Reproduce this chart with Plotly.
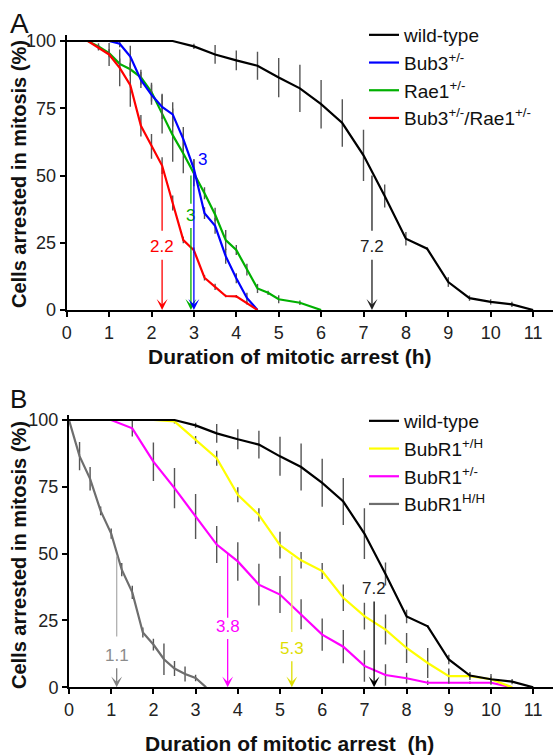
import plotly.graph_objects as go

# ---------------- data ----------------
# wild-type (same in both panels)
wt_t = [0, 0.5, 1, 1.5, 2, 2.5, 3, 3.5, 4, 4.5, 5, 5.5, 6, 6.5, 7, 7.5, 8, 8.5, 9, 9.5, 10, 10.5, 11]
wt_v = [100, 100, 100, 100, 100, 100, 98, 95, 92.8, 90.8, 86.4, 82.4, 76.5, 69.5, 57.5, 42.4, 26.5, 22.8, 10.4, 4.4, 3.0, 2.1, 0]
wt_e = [0, 0, 0, 0, 0, 0, 1.0, 3.5, 3.7, 5.2, 7.3, 8.8, 9.0, 8.8, 9.5, 4.3, 2.5, 0.5, 1.8, 1.0, 1.0, 1.0, 0]

# panel A
bub3_t = [0, 0.25, 0.5, 0.75, 1, 1.25, 1.5, 1.75, 2, 2.25, 2.5, 2.75, 3, 3.25, 3.5, 3.75, 4, 4.25, 4.5]
bub3_v = [100, 100, 100, 100, 100, 99, 94.2, 85.5, 80, 75.5, 72.7, 63.5, 52.5, 36, 31.3, 20, 11.8, 4.5, 0]
bub3_e = [0, 0, 0, 0, 0, 1.3, 4.0, 3.0, 3.7, 4.5, 4.5, 4.5, 3.5, 2.2, 3.0, 2.8, 1.9, 1.9, 0]

rae1_t = [0, 0.25, 0.5, 0.75, 1, 1.25, 1.5, 1.75, 2, 2.25, 2.5, 2.75, 3, 3.25, 3.5, 3.75, 4, 4.25, 4.5, 4.75, 5, 5.5, 6]
rae1_v = [100, 100, 100, 98, 95.5, 91.5, 89.5, 86.5, 81, 73, 65, 58.2, 51, 43.4, 35.5, 26, 22.3, 15, 8, 6.4, 4, 2.7, 0]
rae1_e = [0, 0, 0, 1.2, 1.5, 2, 2.5, 2.8, 3.5, 7.4, 9.9, 7.4, 5, 2.2, 2.5, 3.7, 1.9, 2.2, 1.7, 0.8, 1.5, 0.8, 0]

dbl_t = [0, 0.25, 0.5, 0.75, 1, 1.25, 1.5, 1.75, 2, 2.25, 2.5, 2.75, 3, 3.25, 3.5, 3.75, 4, 4.25, 4.5]
dbl_v = [100, 100, 100, 97.5, 95, 90, 83.6, 68.5, 60.8, 53.7, 39.8, 26, 22.2, 12, 8.6, 5.2, 5.1, 2.5, 0]
dbl_e = [0, 0, 0, 1.0, 4.3, 6.8, 8.0, 4.0, 4.6, 3.1, 2.8, 1.2, 1.0, 1.0, 1.2, 0.5, 0.5, 0.5, 0]

# panel B
bh_t = [0, 0.5, 1, 1.5, 2, 2.5, 3, 3.5, 4, 4.5, 5, 5.5, 6, 6.5, 7, 7.5, 8, 8.5, 9, 9.5, 10, 10.5]
bh_v = [100, 100, 100, 100, 100, 99.5, 92.5, 85.7, 72, 64.5, 53.2, 47.5, 43.5, 33.5, 26.6, 21.6, 14.7, 9.1, 4.2, 4.2, 3.0, 0]
bh_e = [0, 0, 0, 0, 0, 0.8, 1.5, 2.8, 2.8, 2.5, 5, 3.1, 3, 5, 5, 5.6, 5.6, 5.6, 2.8, 1.5, 2, 0]

bm_t = [0, 0.5, 1, 1.5, 2, 2.5, 3, 3.5, 4, 4.5, 5, 5.5, 6, 6.5, 7, 7.5, 8, 8.5, 9, 9.5, 10, 10.5]
bm_v = [100, 100, 100, 96.9, 84.4, 74.5, 63.9, 53.4, 47.1, 38.4, 34.7, 27.3, 19.7, 15.2, 8, 4.6, 3.4, 1.7, 1.7, 1.7, 1.7, 0]
bm_e = [0, 0, 0, 3.1, 7.2, 7.5, 8.4, 6.9, 7.2, 7.8, 6.9, 5.6, 6, 6.2, 5.9, 4, 2, 0.8, 0.5, 0.5, 0.5, 0]

hh_t = [0, 0.25, 0.5, 0.75, 1, 1.25, 1.5, 1.75, 2, 2.25, 2.5, 2.75, 3, 3.25]
hh_v = [100, 86.5, 78, 66, 57.5, 44, 35.5, 20.5, 16, 10.5, 7, 5, 3.5, 0]
hh_e = [0, 5.3, 4.4, 1.6, 1.9, 2.5, 2.5, 1.9, 2.2, 5.9, 2.8, 2.8, 1.2, 0]

# median markers: position, label, line top, line bottom (above label), label y
medA_x = [7.2, 2.93, 2.25]
medA_lbl = ["7.2", "3", "2.2"]
medA_top = [50, 50, 53]
medA_seg = [29.5, 39.5, 29.5]
medA_ly = [23.5, 35.3, 23.5]
medA_col = ["#222222", "#00b000", "#ff0000"]
# blue median (label to the side of a continuous arrow)
medA_blue_x = 3.0
medA_blue_top = 52
medA_blue_lbl = "3"
medA_blue_lx = 3.2
medA_blue_ly = 56

medB_x = [1.13, 3.76, 5.28]
medB_lbl = ["1.1", "3.8", "5.3"]
medB_top = [49, 50, 49]
medB_seg = [19, 26, 20.7]
medB_ly = [12, 22.9, 14.6]
medB_line = ["#b0b0b0", "#ff00ff", "#eeee55"]
medB_col = ["#8c8c8c", "#ff00ff", "#dede00"]
medB_wt_x = 7.23
medB_wt_lbl = "7.2"
medB_wt_ly = 37

x_ticks = list(range(0, 12))
y_ticks = [0, 25, 50, 75, 100]

# ---------------- layout helpers ----------------
W, H = 553, 755
def px(x):
    return x / W
def py(y):
    return 1 - y / H

FONT = "Liberation Sans, Arial, sans-serif"
ERRC = "#555555"

fig = go.Figure()

def add(t, v, e, color, name, xa, ya, lg, rank):
    fig.add_trace(go.Scatter(
        x=t, y=v, mode="lines", name=name,
        line=dict(color=color, width=2.2),
        error_y=dict(type="data", array=e, visible=True, color=ERRC, thickness=1.4, width=0),
        xaxis=xa, yaxis=ya, legend=lg, legendrank=rank))

# panel A
add(rae1_t, rae1_v, rae1_e, "#00b000", "Rae1<sup>+/-</sup>", "x", "y", "legend", 3)
add(bub3_t, bub3_v, bub3_e, "#0000ff", "Bub3<sup>+/-</sup>", "x", "y", "legend", 2)
add(dbl_t, dbl_v, dbl_e, "#ff0000", "Bub3<sup>+/-</sup>/Rae1<sup>+/-</sup>", "x", "y", "legend", 4)
add(wt_t, wt_v, wt_e, "#000000", "wild-type", "x", "y", "legend", 1)

# panel B
add(hh_t, hh_v, hh_e, "#6e6e6e", "BubR1<sup>H/H</sup>", "x2", "y2", "legend2", 4)
add(bm_t, bm_v, bm_e, "#ff00ff", "BubR1<sup>+/-</sup>", "x2", "y2", "legend2", 3)
add(bh_t, bh_v, bh_e, "#ffff00", "BubR1<sup>+/H</sup>", "x2", "y2", "legend2", 2)
add(wt_t, wt_v, wt_e, "#000000", "wild-type", "x2", "y2", "legend2", 1)

annotations = []

def median(xv, top, seg, ly, lbl, lcol, tcol, acol, xa, ya):
    if top is not None:
        fig.add_trace(go.Scatter(x=[xv, xv], y=[top, seg], mode="lines",
                                 line=dict(color=lcol, width=1.3), showlegend=False,
                                 hoverinfo="skip", xaxis=xa, yaxis=ya))
    annotations.append(dict(x=xv, y=0, ax=xv, ay=ly, xref=xa, yref=ya, axref=xa, ayref=ya,
                            text=lbl, showarrow=True, arrowhead=3, arrowsize=1.4, arrowwidth=1.3,
                            arrowcolor=acol, startstandoff=2,
                            font=dict(family=FONT, size=17, color=tcol)))

for xv, lb, tp, sg, ly, c in zip(medA_x, medA_lbl, medA_top, medA_seg, medA_ly, medA_col):
    median(xv, tp, sg, ly, lb, c, c, c, "x", "y")
# blue continuous arrow
annotations.append(dict(x=medA_blue_x, y=0, ax=medA_blue_x, ay=medA_blue_top, xref="x", yref="y",
                        axref="x", ayref="y", text="", showarrow=True, arrowhead=3, arrowsize=1.4,
                        arrowwidth=1.3, arrowcolor="#0000ff"))
annotations.append(dict(x=medA_blue_lx, y=medA_blue_ly, xref="x", yref="y", text=medA_blue_lbl,
                        showarrow=False, font=dict(family=FONT, size=17, color="#0000ff")))

for xv, lb, tp, sg, ly, lc, tc in zip(medB_x, medB_lbl, medB_top, medB_seg, medB_ly, medB_line, medB_col):
    median(xv, tp, sg, ly, lb, lc, tc, tc if tc != "#8c8c8c" else "#808080", "x2", "y2")
median(medB_wt_x, None, None, medB_wt_ly, medB_wt_lbl, "#222", "#222222", "#000000", "x2", "y2")

# panel letters and axis titles
annotations += [
    dict(x=px(8), y=py(6), xref="paper", yref="paper", xanchor="left", yanchor="top",
         text="A", showarrow=False, font=dict(family=FONT, size=28, color="#111")),
    dict(x=px(8), y=py(382), xref="paper", yref="paper", xanchor="left", yanchor="top",
         text="B", showarrow=False, font=dict(family=FONT, size=26, color="#111")),
    dict(x=px(290), y=py(356), xref="paper", yref="paper", xanchor="center", yanchor="middle",
         text="<b>Duration of mitotic arrest (h)</b>", showarrow=False,
         font=dict(family=FONT, size=21, color="#111")),
    dict(x=px(289), y=py(743), xref="paper", yref="paper", xanchor="center", yanchor="middle",
         text="<b>Duration of mitotic arrest \u00a0(h)</b>", showarrow=False,
         font=dict(family=FONT, size=21, color="#111")),
    dict(x=px(19), y=py(174), xref="paper", yref="paper", xanchor="center", yanchor="middle",
         text="<b>Cells arrested in mitosis (%)</b>", textangle=-90, showarrow=False,
         font=dict(family=FONT, size=20, color="#111")),
    dict(x=px(19), y=py(555), xref="paper", yref="paper", xanchor="center", yanchor="middle",
         text="<b>Cells arrested in mitosis (%)</b>", textangle=-90, showarrow=False,
         font=dict(family=FONT, size=20, color="#111")),
]

axis_common = dict(showline=True, linecolor="black", linewidth=2, ticks="outside", ticklen=5,
                   tickwidth=1.5, tickcolor="black", showgrid=False, zeroline=False,
                   automargin=False,
                   tickfont=dict(family=FONT, size=18, color="#222"))

fig.update_layout(
    width=W, height=H, margin=dict(l=0, r=0, t=0, b=0, autoexpand=False),
    paper_bgcolor="white", plot_bgcolor="white",
    annotations=annotations,
    xaxis=dict(domain=[px(66.7), 1], range=[0, (W - 66.7) / 42.4], tickvals=x_ticks,
               anchor="y", **axis_common),
    yaxis=dict(domain=[py(310), py(35)], range=[0, 275 / 2.69], tickvals=y_ticks,
               anchor="x", **axis_common),
    xaxis2=dict(domain=[px(69), 1], range=[0, (W - 69) / 42.2], tickvals=x_ticks,
                anchor="y2", **axis_common),
    yaxis2=dict(domain=[py(687.3), py(415)], range=[0, 272.3 / 2.673], tickvals=y_ticks,
                anchor="x2", **axis_common),
    legend=dict(x=px(364), y=py(16), xanchor="left", yanchor="top", bgcolor="rgba(0,0,0,0)",
                font=dict(family=FONT, size=19, color="#111"), traceorder="normal"),
    legend2=dict(x=px(364), y=py(402), xanchor="left", yanchor="top", bgcolor="rgba(0,0,0,0)",
                 font=dict(family=FONT, size=19, color="#111"), traceorder="normal"),
    showlegend=True,
)

fig.write_html("out.html", config={"displayModeBar": False},
               post_script="document.body.style.margin='0px';document.body.style.overflow='hidden';")
